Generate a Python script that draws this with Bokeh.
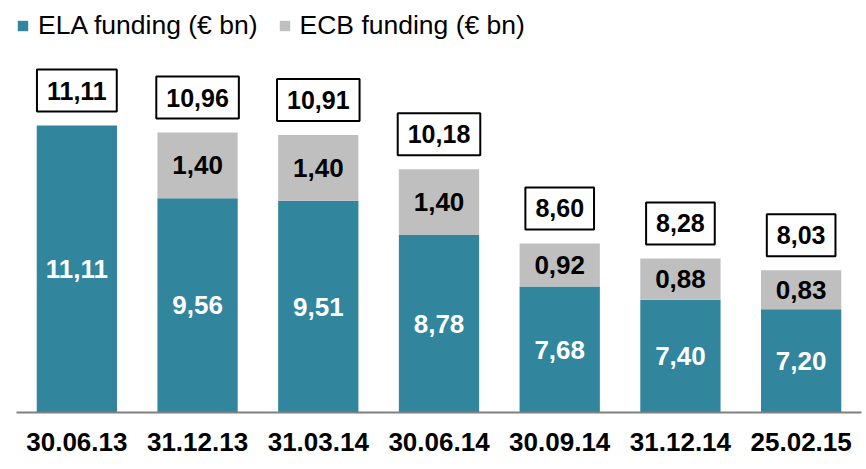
from bokeh.plotting import figure
from bokeh.models import ColumnDataSource, Range1d, FactorRange
from bokeh.core.properties import value
from bokeh.embed import file_html
from bokeh.resources import INLINE

dates = ["30.06.13", "31.12.13", "31.03.14", "30.06.14", "30.09.14", "31.12.14", "25.02.15"]
ela = [11.11, 9.56, 9.51, 8.78, 7.68, 7.40, 7.20]
ecb = [0.0, 1.40, 1.40, 1.40, 0.92, 0.88, 0.83]

Y0 = 5.0
PX_PER_UNIT = 46.97
FRAME_H = 402
TEAL = "#31859c"
GRAY = "#bfbfbf"
FONT = "Liberation Sans"

def fmt(v):
    return f"{v:.2f}".replace(".", ",")

totals = [round(a + b, 2) for a, b in zip(ela, ecb)]
src = ColumnDataSource(dict(
    x=dates, ela=ela, ecb=ecb, tot=totals,
    ela_mid=[(Y0 + a) / 2 for a in ela],
    ela_lab=[fmt(a) for a in ela],
    tot_lab=[fmt(t) for t in totals],
))
ecb_src = ColumnDataSource(dict(
    x=[d for d, b in zip(dates, ecb) if b > 0],
    mid=[a + b / 2 for a, b in zip(ela, ecb) if b > 0],
    lab=[fmt(b) for b in ecb if b > 0],
))

p = figure(frame_width=845, frame_height=FRAME_H,
           x_range=FactorRange(*dates, range_padding=0),
           y_range=Range1d(Y0, Y0 + FRAME_H / PX_PER_UNIT),
           output_backend="svg", toolbar_location=None,
           min_border_left=16, min_border_right=5, min_border_top=10, min_border_bottom=56)

p.vbar(x="x", top="ela", bottom=0, width=0.665, source=src, color=TEAL, line_color=None,
       legend_label="ELA funding (€ bn)")
p.vbar(x="x", top="tot", bottom="ela", width=0.665, source=src, color=GRAY, line_color=None,
       legend_label="ECB funding (€ bn)")

p.text(x="x", y="ela_mid", text="ela_lab", source=src, text_color="white",
       text_font=value(FONT), text_font_style="bold", text_font_size="26px",
       text_align="center", text_baseline="middle")
p.text(x="x", y="mid", text="lab", source=ecb_src, text_color="black",
       text_font=value(FONT), text_font_style="bold", text_font_size="26px",
       text_align="center", text_baseline="middle")
p.text(x="x", y="tot", text="tot_lab", source=src, text_color="black",
       text_font=value(FONT), text_font_style="bold", text_font_size="25px",
       text_align="center", text_baseline="bottom", y_offset=-14,
       border_line_color="black", border_line_width=2,
       background_fill_color="white", padding=(10, 12))

p.xgrid.visible = False
p.ygrid.visible = False
p.yaxis.visible = False
p.outline_line_color = None

ax = p.xaxis[0]
ax.axis_line_color = "#808080"
ax.axis_line_width = 2
ax.major_tick_line_color = None
ax.minor_tick_line_color = None
ax.major_tick_out = 0
ax.major_tick_in = 0
ax.major_label_standoff = 20
ax.major_label_text_font = FONT
ax.major_label_text_font_style = "bold"
ax.major_label_text_font_size = "26px"
ax.major_label_text_color = "black"

lg = p.legend[0]
lg.location = "top_left"
lg.orientation = "horizontal"
lg.border_line_color = None
lg.background_fill_alpha = 0
lg.margin = 0
lg.padding = 0
lg.spacing = 20
lg.glyph_width = 13
lg.glyph_height = 13
lg.label_standoff = 9
lg.label_text_font = FONT
lg.label_text_font_size = "26.5px"
lg.label_text_color = "black"

open("out.html", "w").write(file_html(p, INLINE))
